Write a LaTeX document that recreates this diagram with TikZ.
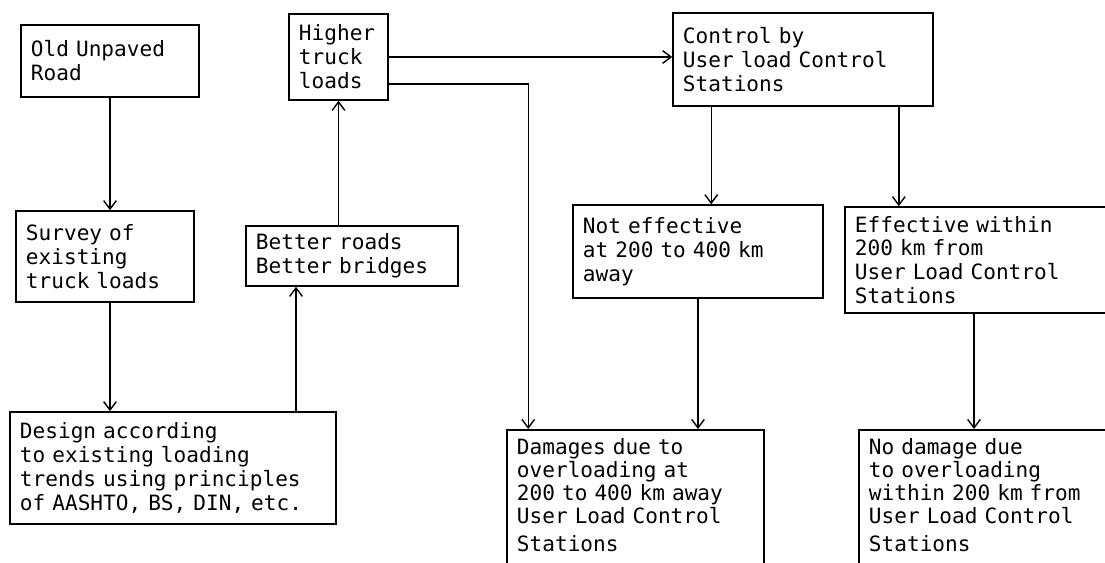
\documentclass[tikz,border=0pt]{standalone}
\usepackage{fontspec}
\setmainfont{DejaVu Sans Mono}
\usetikzlibrary{arrows.meta,positioning,calc}

\begin{document}
\begin{tikzpicture}[
    x=0.025cm, y=-0.025cm,
    blk/.style={draw, line width=1.1pt, inner xsep=0.25cm, inner ysep=0pt, align=left, font=\fontsize{15}{17}\selectfont},
    low/.style={blk, anchor=north, inner ysep=0.22cm, text depth=2.9cm, font=\fontsize{15}{16.4}\selectfont},
    arr/.style={-{Straight Barb[length=6pt,width=9pt]}, line width=1pt}
]
\useasboundingbox (0,0) rectangle (1105,562);
% left column
\node[blk, minimum width=4.45cm, text width=3.95cm, minimum height=1.8cm] (road) at (110,61) {Old Unpaved\\Road};
\node[blk, minimum width=4.45cm, text width=3.95cm, minimum height=2.275cm] (survey) at (105,256.5) {Survey of\\existing\\truck loads};
\node[blk, minimum width=8.15cm, text width=7.65cm, minimum height=2.8cm] (design) at (173,468) {Design according\\to existing loading\\trends using principles\\of AASHTO, BS, DIN, etc.};
% middle
\node[blk, minimum width=5.3cm, text width=4.8cm, minimum height=1.5cm] (better) at (352,256) {Better roads\\Better bridges};
\node[blk, minimum width=2.475cm, text width=1.975cm, minimum height=2.15cm] (higher) at (338.5,57) {Higher\\truck\\loads};
% right side
\node[blk, minimum width=6.5cm, text width=6.0cm, minimum height=2.325cm] (control) at (803,59.5) {Control by\\User load Control\\Stations};
\node[blk, minimum width=6.25cm, text width=5.75cm, minimum height=2.325cm] (noteff) at (698,251.5) {Not effective\\at 200 to 400 km\\away};
\node[blk, minimum width=6.75cm, text width=6.25cm, minimum height=2.65cm] (eff) at (980,260) {Effective within\\200 km from\\User Load Control\\Stations};
\node[low, minimum width=6.425cm, text width=5.925cm] (damage) at (635.5,429) {Damages due to\\overloading at\\200 to 400 km away\\User Load Control\\[3pt]Stations};
\node[low, minimum width=6.6cm, text width=6.1cm] (nodamage) at (991,429) {No damage due\\to overloading\\within 200 km from\\User Load Control\\[3pt]Stations};

\draw[arr] (road.south) -- (road.south |- survey.north);
\draw[arr] (survey.south -| road.south) -- (design.north -| road.south);
\draw[arr] (design.north -| 296,0) -- (better.south -| 296,0);
\draw[arr] (better.north -| higher.south) -- (higher.south);
\draw[arr] (higher.east) -- (higher.east -| control.west);
\draw[arr] ([yshift=-0.675cm]higher.east) -| ([xshift=0.55cm]damage.north west);
\draw[arr] ([xshift=0.975cm]control.south west) -- ([xshift=0.975cm]control.south west |- noteff.north);
\draw[arr] ([xshift=-0.875cm]control.south east) -- ([xshift=-0.875cm]control.south east |- eff.north);
\draw[arr] (noteff.south) -- (noteff.south |- damage.north);
\draw[arr] (eff.south -| 974,0) -- (nodamage.north -| 974,0);
\end{tikzpicture}
\end{document}
